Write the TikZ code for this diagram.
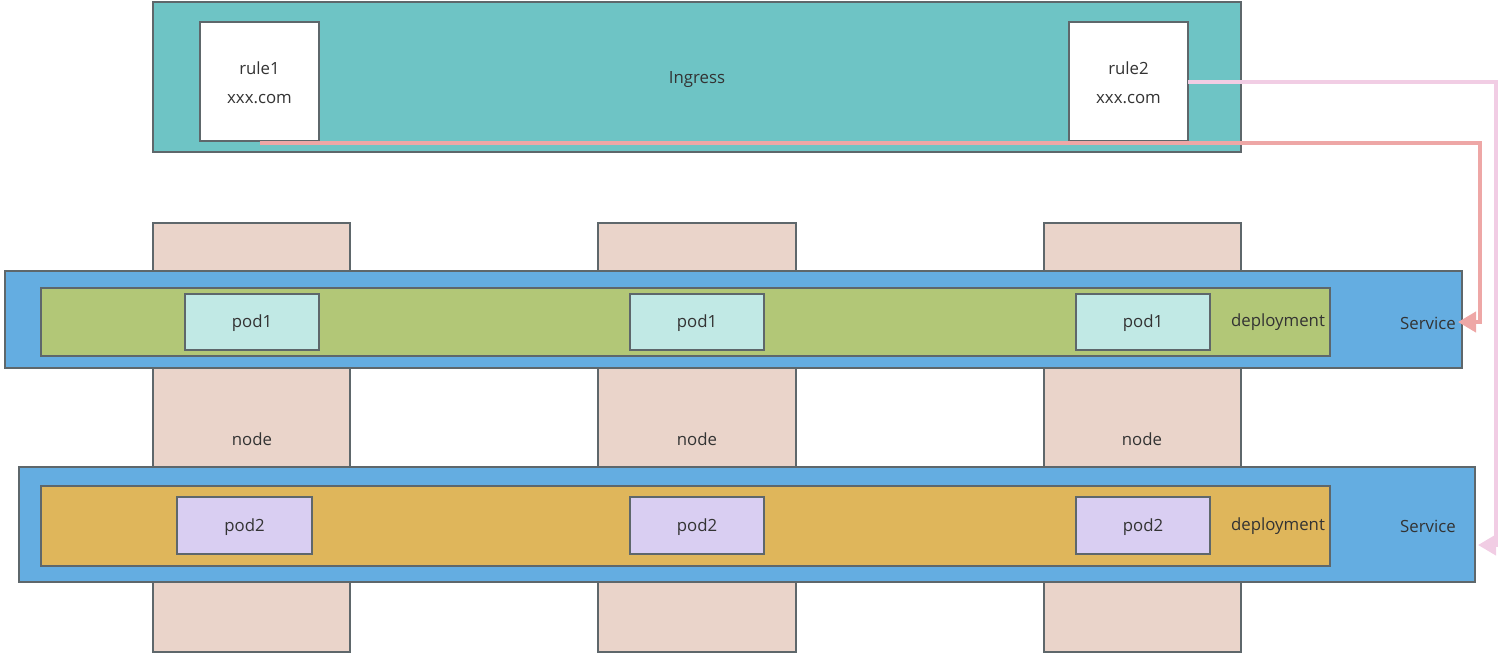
\documentclass[tikz,border=0pt]{standalone}
\usepackage{fontspec}
\setmainfont{Open Sans}
\usetikzlibrary{arrows.meta,calc}
\definecolor{bordc}{HTML}{5E676B}
\definecolor{ingc}{HTML}{6EC4C5}
\definecolor{svcc}{HTML}{64ADE1}
\definecolor{dep1c}{HTML}{B2C777}
\definecolor{dep2c}{HTML}{DFB65B}
\definecolor{pod1c}{HTML}{C1E9E5}
\definecolor{pod2c}{HTML}{D9CEF2}
\definecolor{nodec}{HTML}{EAD4CA}
\definecolor{txtc}{HTML}{333333}
\definecolor{redc}{HTML}{EEA7A6}
\definecolor{pinkc}{HTML}{F1CDE4}
\tikzset{
  box/.style={draw=bordc, line width=2pt, inner sep=0pt, outer sep=0pt, anchor=north west},
  lbl/.style={font=\fontsize{16.8}{20}\selectfont, text=txtc, inner sep=0pt, yshift=-1.5pt},
  redline/.style={draw=redc, line width=4pt, -{Triangle[length=18pt 0 0,width=20pt 0 0]}},
  pinkline/.style={draw=pinkc, line width=4pt, -{Triangle[length=18pt 0 0,width=20pt 0 0]}},
}
\begin{document}
\begin{tikzpicture}[x=1pt,y=-1pt]
\useasboundingbox (0,0) rectangle (1500,654);
% nodes (machines)
\node[box, fill=nodec, minimum width=197, minimum height=429] (n1) at (153,223) {};
\node[box, fill=nodec, minimum width=198, minimum height=429] (n2) at (598,223) {};
\node[box, fill=nodec, minimum width=197, minimum height=429] (n3) at (1044,223) {};
% services
\node[box, fill=svcc, minimum width=1457, minimum height=97] (svc1) at (5,271) {};
\node[box, fill=svcc, minimum width=1456, minimum height=115] (svc2) at (19,467) {};
% deployments
\node[box, fill=dep1c, minimum width=1289, minimum height=68] (dep1) at (41,288) {};
\node[box, fill=dep2c, minimum width=1289, minimum height=80] (dep2) at (41,486) {};
% pods
\node[box, fill=pod1c, minimum width=134, minimum height=56] (p11) at (185,294) {};
\node[box, fill=pod1c, minimum width=134, minimum height=56] (p12) at (630,294) {};
\node[box, fill=pod1c, minimum width=134, minimum height=56] (p13) at (1076,294) {};
\node[box, fill=pod2c, minimum width=135, minimum height=57] (p21) at (177,497) {};
\node[box, fill=pod2c, minimum width=134, minimum height=57] (p22) at (630,497) {};
\node[box, fill=pod2c, minimum width=134, minimum height=57] (p23) at (1076,497) {};
\foreach \p in {p11,p12,p13} \node[lbl] at (\p.center) {pod1};
\foreach \p in {p21,p22,p23} \node[lbl] at (\p.center) {pod2};
% node labels
\node[lbl] (nl1) at (252,438) {node};
\node[lbl] (nl2) at (697,438) {node};
\node[lbl] (nl3) at (1142,438) {node};
% deployment / service labels
\node[lbl] (dl1) at (1278,321) {deployment};
\node[lbl] (dl2) at (1278,525) {deployment};
\node[lbl] (sl1) at (1428,322) {Service};
\node[lbl] (sl2) at (1428,525) {Service};
% ingress
\node[box, fill=ingc, minimum width=1088, minimum height=150] (ing) at (153,2) {};
\node[lbl] (ingl) at (697,78) {Ingress};
\node[box, fill=white, minimum width=119, minimum height=119] (r1) at (200,22) {};
\node[box, fill=white, minimum width=119, minimum height=119] (r2) at (1069,22) {};
\node[lbl, align=center] at (r1.center) {rule1\\[9pt]xxx.com};
\node[lbl, align=center] at (r2.center) {rule2\\[9pt]xxx.com};
% connectors
\coordinate (cx1) at (1480,0);
\coordinate (cx2) at (1496,0);
\coordinate (t1) at ([xshift=-4pt,yshift=-2.5pt]svc1.east);
\coordinate (t2) at ([xshift=3pt,yshift=-20.5pt]svc2.east);
\draw[redline] ([yshift=-2pt]r1.south) -- ([yshift=-2pt]r1.south -| cx1) -- (cx1 |- t1) -- (t1);
\draw[pinkline] (r2.east) -- (r2.east -| cx2) -- (cx2 |- t2) -- (t2);
\end{tikzpicture}
\end{document}
